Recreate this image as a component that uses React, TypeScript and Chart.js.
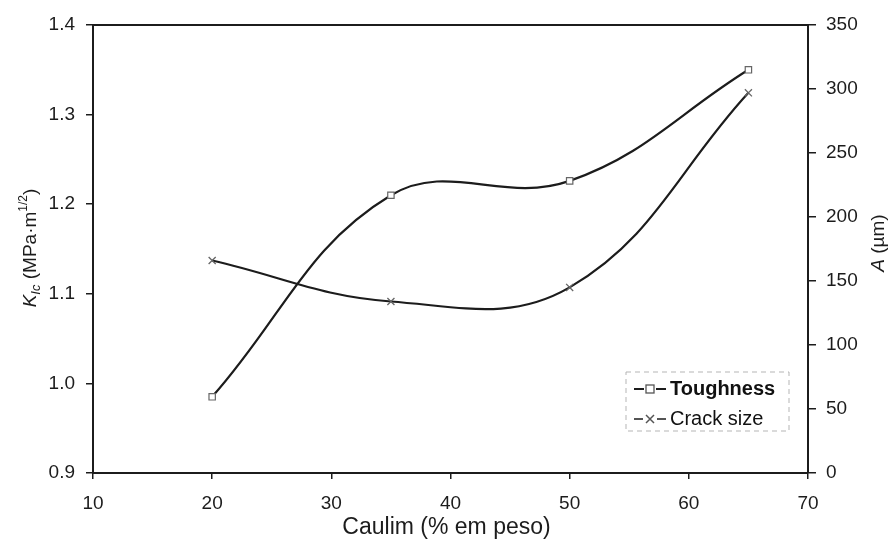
import React, { useEffect, useRef } from "react";
import { Chart, registerables } from "chart.js";

Chart.register(...registerables);

// ---- data ----
const caulim = [20, 35, 50, 65];
const toughness = [0.985, 1.21, 1.226, 1.35];
const crackSize = [166, 134, 145, 297];
const xTicks = [10, 20, 30, 40, 50, 60, 70];
const leftTicks = [0.9, 1.0, 1.1, 1.2, 1.3, 1.4];
const rightTicks = [0, 50, 100, 150, 200, 250, 300, 350];
const seriesLabels = ["Toughness", "Crack size"];
const xTitle = "Caulim (% em peso)";

const FONT = '"Liberation Sans", Arial, Helvetica, sans-serif';
const INK = "#1c1c1c";

type Part = { t: string; size: number; style?: string; dy?: number };

function drawRich(ctx: CanvasRenderingContext2D, parts: Part[], cx: number, cy: number, rot: number) {
  ctx.save();
  ctx.translate(cx, cy);
  ctx.rotate(rot);
  ctx.textBaseline = "middle";
  ctx.textAlign = "left";
  let total = 0;
  const widths = parts.map((p) => {
    ctx.font = `${p.style || ""} ${p.size}px ${FONT}`;
    const w = ctx.measureText(p.t).width;
    total += w;
    return w;
  });
  let x = -total / 2;
  parts.forEach((p, i) => {
    ctx.font = `${p.style || ""} ${p.size}px ${FONT}`;
    ctx.fillText(p.t, x, p.dy || 0);
    x += widths[i];
  });
  ctx.restore();
}

const decorPlugin = {
  id: "decor",
  afterDraw(chart: any) {
    const ctx: CanvasRenderingContext2D = chart.ctx;
    const a = chart.chartArea;
    ctx.save();
    // top frame line
    ctx.strokeStyle = INK;
    ctx.lineWidth = 2;
    ctx.beginPath();
    ctx.moveTo(a.left - 1, a.top);
    ctx.lineTo(a.right + 1, a.top);
    ctx.stroke();

    ctx.fillStyle = INK;
    // left axis title
    drawRich(
      ctx,
      [
        { t: "K", size: 19, style: "italic" },
        { t: "Ic", size: 13, style: "italic", dy: 5 },
        { t: " (MPa\u00b7m", size: 19 },
        { t: "1/2", size: 12, dy: -7 },
        { t: ")", size: 19 },
      ],
      31,
      248,
      -Math.PI / 2
    );
    // right axis title
    drawRich(
      ctx,
      [
        { t: "A", size: 19, style: "italic" },
        { t: " (\u00b5m)", size: 19 },
      ],
      879,
      243,
      -Math.PI / 2
    );
    // x axis title
    ctx.font = `23px ${FONT}`;
    ctx.textAlign = "center";
    ctx.textBaseline = "middle";
    ctx.fillText(xTitle, (a.left + a.right) / 2 - 4, 528);

    // legend box
    const bx = 626, by = 372, bw = 163, bh = 59;
    ctx.strokeStyle = "#b5b5b5";
    ctx.lineWidth = 1;
    ctx.setLineDash([5, 4]);
    ctx.strokeRect(bx, by, bw, bh);
    ctx.setLineDash([]);

    const rows = [389, 419];
    // toughness sample
    ctx.strokeStyle = INK;
    ctx.lineWidth = 2;
    ctx.beginPath();
    ctx.moveTo(634, rows[0]); ctx.lineTo(644, rows[0]);
    ctx.moveTo(656, rows[0]); ctx.lineTo(666, rows[0]);
    ctx.stroke();
    ctx.lineWidth = 1.3;
    ctx.strokeStyle = "#555";
    ctx.strokeRect(646, rows[0] - 4, 8, 8);
    // crack sample
    ctx.strokeStyle = INK;
    ctx.lineWidth = 1.5;
    ctx.beginPath();
    ctx.moveTo(634, rows[1]); ctx.lineTo(643, rows[1]);
    ctx.moveTo(657, rows[1]); ctx.lineTo(666, rows[1]);
    ctx.stroke();
    ctx.strokeStyle = "#555";
    ctx.beginPath();
    ctx.moveTo(646, rows[1] - 4); ctx.lineTo(654, rows[1] + 4);
    ctx.moveTo(654, rows[1] - 4); ctx.lineTo(646, rows[1] + 4);
    ctx.stroke();

    ctx.fillStyle = "#111";
    ctx.textAlign = "left";
    ctx.textBaseline = "middle";
    ctx.font = `bold 20px ${FONT}`;
    ctx.fillText(seriesLabels[0], 670, rows[0]);
    ctx.font = `20px ${FONT}`;
    ctx.fillText(seriesLabels[1], 670, rows[1]);
    ctx.restore();
  },
};

export default function App() {
  const ref = useRef<HTMLCanvasElement | null>(null);

  useEffect(() => {
    if (!ref.current) return;
    const tickFont = { family: FONT, size: 19 };
    const chart = new Chart(ref.current, {
      type: "line",
      data: {
        datasets: [
          {
            label: seriesLabels[0],
            data: caulim.map((x, i) => ({ x, y: toughness[i] })),
            yAxisID: "y",
            borderColor: INK,
            borderWidth: 2.2,
            tension: 0.4,
            pointStyle: "rect",
            pointRadius: 4.5,
            pointBorderColor: "#666",
            pointBackgroundColor: "#fff",
            pointBorderWidth: 1.2,
            fill: false,
          },
          {
            label: seriesLabels[1],
            data: caulim.map((x, i) => ({ x, y: crackSize[i] })),
            yAxisID: "y1",
            borderColor: INK,
            borderWidth: 2.2,
            tension: 0.4,
            pointStyle: "crossRot",
            pointRadius: 5,
            pointBorderColor: "#666",
            pointBackgroundColor: "#fff",
            pointBorderWidth: 1.3,
            fill: false,
          },
        ],
      },
      options: {
        responsive: false,
        animation: false,
        layout: { padding: { top: 25, left: 0, right: 0, bottom: 0 } },
        plugins: { legend: { display: false }, tooltip: { enabled: false } },
        scales: {
          x: {
            type: "linear",
            min: 10,
            max: 70,
            afterBuildTicks: (s: any) => {
              s.ticks = xTicks.map((v) => ({ value: v }));
            },
            afterFit: (s: any) => {
              s.height = 68;
            },
            ticks: { font: tickFont, color: INK, padding: 13, maxRotation: 0, callback: (v: any) => String(v) },
            grid: { drawOnChartArea: false, drawTicks: true, tickLength: 6, color: INK, lineWidth: 1.5 },
            border: { color: INK, width: 2 },
          },
          y: {
            type: "linear",
            position: "left",
            min: 0.9,
            max: 1.4,
            afterBuildTicks: (s: any) => {
              s.ticks = leftTicks.map((v) => ({ value: v }));
            },
            afterFit: (s: any) => {
              s.width = 93;
            },
            ticks: { font: tickFont, color: INK, padding: 11, callback: (v: any) => Number(v).toFixed(1) },
            grid: { drawOnChartArea: false, drawTicks: true, tickLength: 7, color: INK, lineWidth: 1.5 },
            border: { color: INK, width: 2 },
          },
          y1: {
            type: "linear",
            position: "right",
            min: 0,
            max: 350,
            afterBuildTicks: (s: any) => {
              s.ticks = rightTicks.map((v) => ({ value: v }));
            },
            afterFit: (s: any) => {
              s.width = 82;
            },
            ticks: { font: tickFont, color: INK, padding: 10, callback: (v: any) => String(v) },
            grid: { drawOnChartArea: false, drawTicks: true, tickLength: 8, color: INK, lineWidth: 1.5 },
            border: { color: INK, width: 2 },
          },
        },
      },
      plugins: [decorPlugin],
    } as any);
    return () => chart.destroy();
  }, []);

  return (
    <div style={{ position: "absolute", left: 0, top: 0, width: 890, height: 541, background: "#fff" }}>
      <canvas ref={ref} width={890} height={541} style={{ display: "block" }} />
    </div>
  );
}
